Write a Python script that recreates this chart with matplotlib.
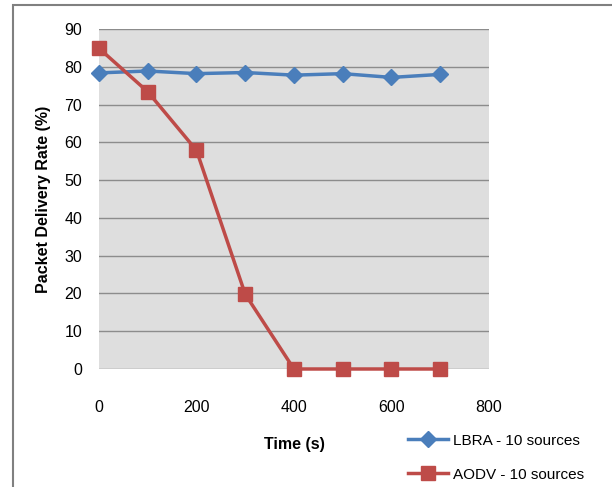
import matplotlib
matplotlib.use("Agg")
import matplotlib.pyplot as plt
from matplotlib.patches import Rectangle

# data
time_s = [0, 100, 200, 300, 400, 500, 600, 700]
lbra = [78.4, 78.9, 78.2, 78.5, 77.8, 78.2, 77.2, 78.0]
aodv = [84.9, 73.4, 57.9, 19.8, 0, 0, 0, 0]
x_ticks = [0, 200, 400, 600, 800]
y_ticks = list(range(0, 100, 10))

plt.rcParams['font.family'] = ['Liberation Sans Narrow', 'Liberation Sans', 'DejaVu Sans']

fig = plt.figure(figsize=(6.12, 4.87), dpi=100)
ax = fig.add_axes([0.1618, 0.2423, 0.637, 0.698])
ax.set_facecolor('#dedede')

ax.plot(time_s, lbra, color='#4a7ebb', lw=2.5, marker='D', ms=8,
        label='LBRA - 10 sources', zorder=3)
ax.plot(time_s, aodv, color='#be4b48', lw=2.5, marker='s', ms=10,
        label='AODV - 10 sources', zorder=3)

ax.set_xlim(0, 800)
ax.set_ylim(0, 90)
ax.set_xticks(x_ticks)
ax.set_yticks(y_ticks)
ax.grid(axis='y', color='#8c8c8c', lw=1)
ax.set_axisbelow(True)
for s in ax.spines.values():
    s.set_visible(False)
ax.tick_params(length=0, labelsize=11.5)
ax.tick_params(axis='x', pad=22)
ax.tick_params(axis='y', pad=12)
for ln in ax.lines:
    ln.set_clip_on(False)

ax.set_xlabel('Time (s)', fontsize=11.5, fontweight='bold', labelpad=16)
ax.set_ylabel('Packet Delivery Rate (%)', fontsize=11.5, fontweight='bold', labelpad=10)

fig.legend(loc='upper left', bbox_to_anchor=(0.655, 0.125), frameon=False,
           fontsize=11, handlelength=2.6, handletextpad=0.3,
           labelspacing=1.3, borderpad=0)

fig.patches.append(Rectangle((13 / 612, -0.1), 1.5, 1 - 5 / 487 + 0.1,
                             transform=fig.transFigure, fill=False,
                             ec='#808080', lw=1.5))

fig.savefig('out.png', dpi=100)
